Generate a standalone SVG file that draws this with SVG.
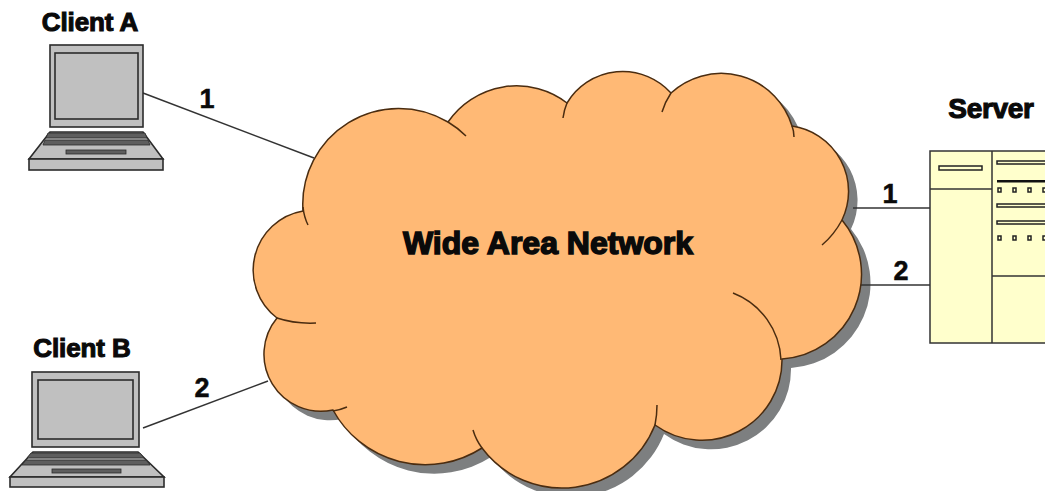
<svg xmlns="http://www.w3.org/2000/svg" width="1045" height="491" viewBox="0 0 1045 491">
<style>
text{font-family:"Liberation Sans",Arial,sans-serif;font-weight:bold;fill:#0a0a0a;text-anchor:middle}
.lbl{font-size:26px;stroke:#0a0a0a;stroke-width:1.1px}
.num{font-size:27px;stroke:#0a0a0a;stroke-width:.5px}
.title{font-size:32px;stroke:#0a0a0a;stroke-width:1.5px}
.wire{stroke:#333;stroke-width:1.5;fill:none}
.lap{fill:#c0c0c0;stroke:#2b2b2b;stroke-width:1.6}
.key{fill:#5e5e5e;stroke:#2b2b2b;stroke-width:.8}
.srv{fill:#ffffcc;stroke:#333;stroke-width:1.5}
.slot{fill:#ffffcc;stroke:#222;stroke-width:1.5}
.tail{fill:none;stroke:#4a2c10;stroke-width:1.5}
</style>
<defs>
<path id="cloudShape" d="M303,211 A96,96 0 0 1 448,122 A83,83 0 0 1 567,103 A65,65 0 0 1 671,93 A74,74 0 0 1 792,126 A66,66 0 0 1 842,220 A85,85 0 0 1 782,359 A80,80 0 0 1 655,425 A100,100 0 0 1 482,448 A105,105 0 0 1 333,410 A57,57 0 0 1 277,318 A60,60 0 0 1 303,211 Z"/>
</defs>
<rect width="1045" height="491" fill="#fff"/>
<use id="cloud-shadow" href="#cloudShape" transform="translate(9,9)" fill="#7d7f80"/>
<g id="connectors">
<line class="wire" x1="143" y1="93" x2="314" y2="158"/>
<line class="wire" x1="143" y1="428" x2="268" y2="381"/>
<line class="wire" x1="853" y1="208" x2="930" y2="208"/>
<line class="wire" x1="860" y1="285" x2="930" y2="285"/>
</g>
<g id="cloud">
<use href="#cloudShape" fill="#ffb975" stroke="#4a2c10" stroke-width="1.5"/>
<path class="tail" d="M303,207 Q304,217 308,225"/>
<path class="tail" d="M448,122 Q458,128 466,136"/>
<path class="tail" d="M567,103 Q564,110 563,118"/>
<path class="tail" d="M671,93 Q665,102 662,112"/>
<path class="tail" d="M792,126 Q794,131 794,137"/>
<path class="tail" d="M842,220 Q834,235 822,245"/>
<path class="tail" d="M733,293 A75,75 0 0 1 781,360"/>
<path class="tail" d="M655,425 Q657,415 657,405"/>
<path class="tail" d="M482,448 Q476,440 473,430"/>
<path class="tail" d="M333,411 Q340,410 347,407"/>
<path class="tail" d="M277,318 Q295,324 316,323"/>
<text class="title" x="548" y="254">Wide Area Network</text>
</g>
<g id="client-a">
<text class="lbl" x="90" y="31" letter-spacing="-.1">Client A</text>
<rect class="lap" x="50" y="45" width="93" height="82"/>
<rect class="lap" x="55" y="53" width="83" height="66"/>
<path class="lap" d="M50,132 H143 L163,159 H29 Z"/>
<path class="key" d="M48,133 H145 L147,138 H46 Z M45,140 H148 L150,145 H43 Z"/>
<rect class="key" x="66" y="150" width="60" height="4"/>
<rect class="lap" x="29" y="159" width="134" height="11"/>
</g>
<g id="client-b">
<text class="lbl" x="82" y="357" letter-spacing="-.1">Client B</text>
<rect class="lap" x="32" y="372" width="107" height="75"/>
<rect class="lap" x="38" y="380" width="95" height="59"/>
<path class="lap" d="M33,452 H138 L164,477 H10 Z"/>
<path class="key" d="M31,453 H140 L144,458 H27 Z M26,460 H146 L150,465 H22 Z"/>
<rect class="key" x="52" y="469" width="69" height="4"/>
<rect class="lap" x="10" y="477" width="154" height="10"/>
</g>
<g id="server">
<text class="lbl" x="991" y="118" style="font-size:28px" letter-spacing="-.3">Server</text>
<rect class="srv" x="930" y="151" width="130" height="192"/>
<line class="srv" x1="992" y1="151" x2="992" y2="343"/>
<line class="srv" x1="930" y1="189" x2="992" y2="189"/>
<line class="srv" x1="992" y1="276" x2="1045" y2="276"/>
<rect class="slot" x="939" y="166" width="43" height="4"/>
<rect class="slot" x="997" y="161" width="60" height="3"/>
<rect x="997" y="180" width="60" height="2.5" fill="#111"/>
<rect class="slot" x="997" y="204" width="60" height="3"/>
<rect class="slot" x="997" y="221" width="60" height="3"/>
<rect class="slot" x="998" y="188" width="3" height="4"/><rect class="slot" x="1013" y="188" width="3" height="4"/><rect class="slot" x="1028" y="188" width="3" height="4"/><rect class="slot" x="1043" y="188" width="3" height="4"/>
<rect class="slot" x="998" y="236" width="3" height="4"/><rect class="slot" x="1013" y="236" width="3" height="4"/><rect class="slot" x="1028" y="236" width="3" height="4"/><rect class="slot" x="1043" y="236" width="3" height="4"/>
</g>
<g id="labels">
<text class="num" x="207" y="108">1</text>
<text class="num" x="202" y="397">2</text>
<text class="num" x="890" y="203">1</text>
<text class="num" x="901" y="280">2</text>
</g>
</svg>
